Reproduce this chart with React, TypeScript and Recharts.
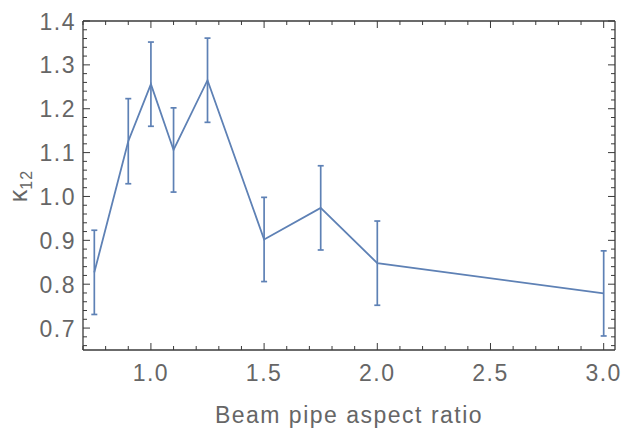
import React from "react";
import { LineChart, Line, XAxis, YAxis, ErrorBar } from "recharts";

// aspect ratio of the beam pipe
const ratios = [0.75, 0.9, 1.0, 1.1, 1.25, 1.5, 1.75, 2.0, 3.0];
// kappa_12 and its uncertainty
const kappa = [0.827, 1.126, 1.256, 1.106, 1.265, 0.902, 0.974, 0.848, 0.779];
const kappaErr = [0.096, 0.097, 0.096, 0.096, 0.096, 0.096, 0.096, 0.096, 0.097];

const xTickLabels = [1.0, 1.5, 2.0, 2.5, 3.0];
const yTickLabels = [0.7, 0.8, 0.9, 1.0, 1.1, 1.2, 1.3, 1.4];

const xMinor: number[] = [];
for (let i = 7; i <= 30; i++) xMinor.push(i / 10);
const yMinor: number[] = [];
for (let i = 33; i <= 70; i++) yMinor.push(i / 50);

const data = ratios.map((x, i) => ({ x, k: kappa[i], err: kappaErr[i] }));

const BLUE = "#5e81b5";
const FRAME = "#3a3a3a";
const TEXT = "#666666";
const FONT = "'Liberation Sans', Arial, sans-serif";

const isMajorX = (v: number) => xTickLabels.some((t) => Math.abs(t - v) < 1e-6);
const isMajorY = (v: number) => yTickLabels.some((t) => Math.abs(t - v) < 1e-6);

function BottomTick({ x, y, payload }: any) {
  const major = isMajorX(payload.value);
  return (
    <g>
      <line x1={x} x2={x} y1={y} y2={y - (major ? 7 : 4)} stroke={FRAME} strokeWidth={1} />
      {major && (
        <text x={x} y={y + 31} textAnchor="middle" fill={TEXT} fontSize={23} letterSpacing={1.5} fontFamily={FONT}>
          {payload.value.toFixed(1)}
        </text>
      )}
    </g>
  );
}

function TopTick({ x, y, payload }: any) {
  const major = isMajorX(payload.value);
  return <line x1={x} x2={x} y1={y} y2={y + (major ? 7 : 4)} stroke={FRAME} strokeWidth={1} />;
}

function LeftTick({ x, y, payload }: any) {
  const major = isMajorY(payload.value);
  return (
    <g>
      <line x1={x} x2={x + (major ? 7 : 4)} y1={y} y2={y} stroke={FRAME} strokeWidth={1} />
      {major && (
        <text x={x - 7} y={y + 8.5} textAnchor="end" fill={TEXT} fontSize={23} letterSpacing={1.5} fontFamily={FONT}>
          {payload.value.toFixed(1)}
        </text>
      )}
    </g>
  );
}

function RightTick({ x, y, payload }: any) {
  const major = isMajorY(payload.value);
  return <line x1={x} x2={x - (major ? 7 : 4)} y1={y} y2={y} stroke={FRAME} strokeWidth={1} />;
}

export default function App() {
  return (
    <div style={{ position: "absolute", left: 0, top: 0, width: 624, height: 430, background: "#fff" }}>
      <LineChart width={624} height={430} data={data} margin={{ top: 20, right: 8, left: 0, bottom: 0 }}>
        <XAxis
          xAxisId="b"
          type="number"
          dataKey="x"
          domain={[0.7, 3.05]}
          ticks={xMinor}
          interval={0}
          height={80}
          tickSize={0}
          tickMargin={0}
          tick={BottomTick}
          axisLine={{ stroke: FRAME, strokeWidth: 1.3 }}
          allowDataOverflow
          label={{
            value: "Beam pipe aspect ratio",
            position: "insideBottom",
            offset: 7,
            fill: TEXT,
            fontSize: 23,
            letterSpacing: 1.5,
            fontFamily: FONT,
          }}
        />
        <XAxis
          xAxisId="t"
          orientation="top"
          type="number"
          dataKey="x"
          domain={[0.7, 3.05]}
          ticks={xMinor}
          interval={0}
          height={1}
          tickSize={0}
          tickMargin={0}
          tick={TopTick}
          axisLine={{ stroke: FRAME, strokeWidth: 1.3 }}
          allowDataOverflow
        />
        <YAxis
          yAxisId="l"
          type="number"
          domain={[0.65, 1.4]}
          ticks={yMinor}
          interval={0}
          width={83}
          tickSize={0}
          tickMargin={0}
          tick={LeftTick}
          axisLine={{ stroke: FRAME, strokeWidth: 1.3 }}
          allowDataOverflow
        />
        <YAxis
          yAxisId="r"
          orientation="right"
          type="number"
          domain={[0.65, 1.4]}
          ticks={yMinor}
          interval={0}
          width={1}
          tickSize={0}
          tickMargin={0}
          tick={RightTick}
          axisLine={{ stroke: FRAME, strokeWidth: 1.3 }}
          allowDataOverflow
        />
        <Line
          xAxisId="b"
          yAxisId="l"
          type="linear"
          dataKey="k"
          stroke={BLUE}
          strokeWidth={1.8}
          dot={false}
          activeDot={false}
          isAnimationActive={false}
        >
          <ErrorBar dataKey="err" width={3} stroke={BLUE} strokeWidth={1.7} isAnimationActive={false} />
        </Line>
        <text
          transform="translate(27,186) rotate(-90)"
          textAnchor="middle"
          fill={TEXT}
          fontSize={25}
          fontFamily={FONT}
        >
          κ<tspan fontSize={16} dy={5} letterSpacing={1}>12</tspan>
        </text>
      </LineChart>
    </div>
  );
}
